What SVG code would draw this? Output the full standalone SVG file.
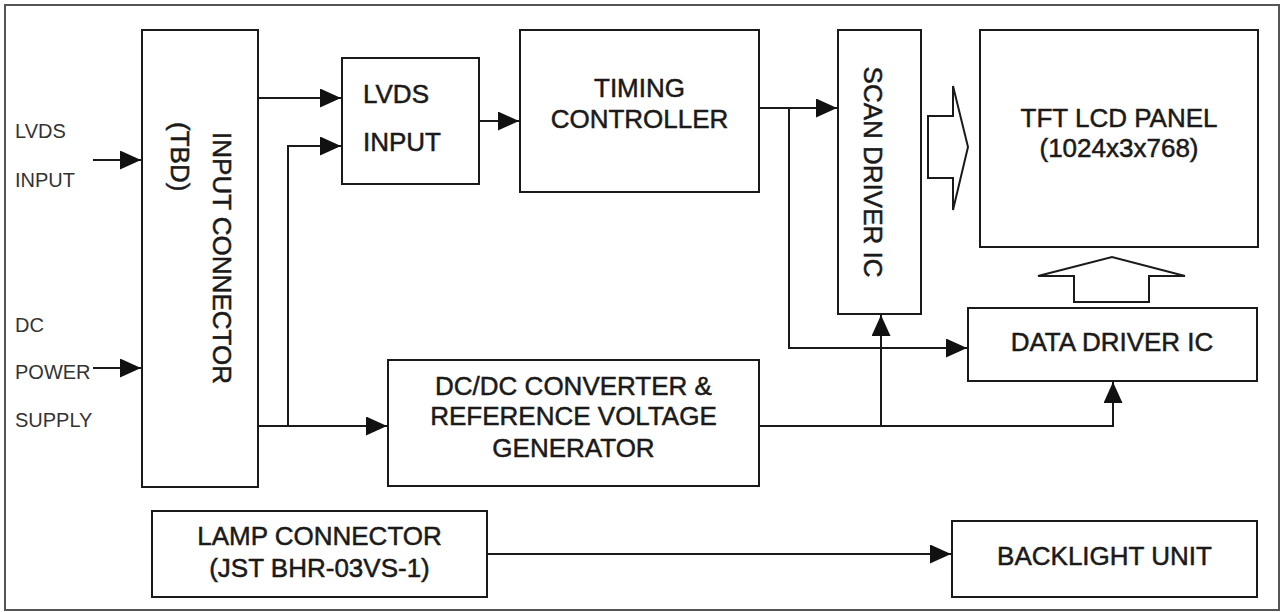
<svg xmlns="http://www.w3.org/2000/svg" width="1281" height="612" viewBox="0 0 1281 612">
<style>
.box{fill:#fff;stroke:#1a1a1a;stroke-width:2}
.ln{fill:none;stroke:#1a1a1a;stroke-width:2}
.t{font-family:"Liberation Sans",Arial,sans-serif;font-size:26px;fill:#1a1a1a;stroke:#1a1a1a;stroke-width:0.5}
.c{text-anchor:middle}
.lbl{font-family:"Liberation Sans",Arial,sans-serif;font-size:20px;fill:#333}
</style>
<defs>
<marker id="ah" markerUnits="userSpaceOnUse" markerWidth="23" markerHeight="20" refX="21" refY="9.5" orient="auto">
<path d="M0,0 L21,9.5 L0,19 z" fill="#111"/>
</marker>
</defs>
<rect x="0" y="0" width="1281" height="612" fill="#fff"/>
<rect x="5" y="5" width="1274" height="605" fill="none" stroke="#555" stroke-width="2"/>

<g id="left-labels">
<text class="lbl" x="15" y="138">LVDS</text>
<text class="lbl" x="15" y="187">INPUT</text>
<text class="lbl" x="15" y="332">DC</text>
<text class="lbl" x="15" y="379">POWER</text>
<text class="lbl" x="15" y="427">SUPPLY</text>
</g>

<g id="input-connector">
<rect class="box" x="142" y="30" width="116" height="457"/>
<text class="t c" transform="translate(213,258) rotate(90)">INPUT CONNECTOR</text>
<text class="t" transform="translate(171,122) rotate(90)">(TBD)</text>
</g>

<g id="lvds-input">
<rect class="box" x="342" y="58" width="137" height="126"/>
<text class="t" x="363" y="103">LVDS</text>
<text class="t" x="363" y="151">INPUT</text>
</g>

<g id="timing-controller">
<rect class="box" x="520" y="30" width="239" height="162"/>
<text class="t c" x="639.5" y="97">TIMING</text>
<text class="t c" x="639.5" y="128">CONTROLLER</text>
</g>

<g id="scan-driver">
<rect class="box" x="838" y="30" width="83" height="284"/>
<text class="t c" transform="translate(864,172) rotate(90)">SCAN DRIVER IC</text>
</g>

<g id="tft-panel">
<rect class="box" x="980" y="30" width="278" height="217"/>
<text class="t c" x="1119" y="127">TFT LCD PANEL</text>
<text class="t c" x="1119" y="157">(1024x3x768)</text>
</g>

<g id="data-driver">
<rect class="box" x="968" y="308" width="289" height="73"/>
<text class="t c" x="1112" y="351">DATA DRIVER IC</text>
</g>

<g id="dcdc">
<rect class="box" x="388" y="360" width="371" height="126"/>
<text class="t c" x="573.5" y="395">DC/DC CONVERTER &amp;</text>
<text class="t c" x="573.5" y="425">REFERENCE VOLTAGE</text>
<text class="t c" x="573.5" y="457">GENERATOR</text>
</g>

<g id="lamp-connector">
<rect class="box" x="152" y="511" width="335" height="86"/>
<text class="t c" x="319.5" y="545">LAMP CONNECTOR</text>
<text class="t c" x="319.5" y="577">(JST BHR-03VS-1)</text>
</g>

<g id="backlight">
<rect class="box" x="952" y="521" width="305" height="76"/>
<text class="t c" x="1104.5" y="565">BACKLIGHT UNIT</text>
</g>

<g id="connectors">
<path class="ln" d="M93,160 H141" marker-end="url(#ah)"/>
<path class="ln" d="M93,368 H141" marker-end="url(#ah)"/>
<path class="ln" d="M258,98 H341" marker-end="url(#ah)"/>
<path class="ln" d="M288,426 V146 H341" marker-end="url(#ah)"/>
<path class="ln" d="M258,426 H387" marker-end="url(#ah)"/>
<path class="ln" d="M479,121 H519" marker-end="url(#ah)"/>
<path class="ln" d="M759,108 H837" marker-end="url(#ah)"/>
<path class="ln" d="M789,108 V348 H967" marker-end="url(#ah)"/>
<path class="ln" d="M759,426 H1113 V382" marker-end="url(#ah)"/>
<path class="ln" d="M881,426 V315" marker-end="url(#ah)"/>
<path class="ln" d="M487,554 H951" marker-end="url(#ah)"/>
<polygon class="ln" points="928,116 953,116 953,86 968,147 953,210 953,178 928,178" fill="#fff"/>
<polygon class="ln" points="1074,302 1074,276 1038,276 1112,257 1185,276 1149,276 1149,302" fill="#fff"/>
</g>
</svg>
